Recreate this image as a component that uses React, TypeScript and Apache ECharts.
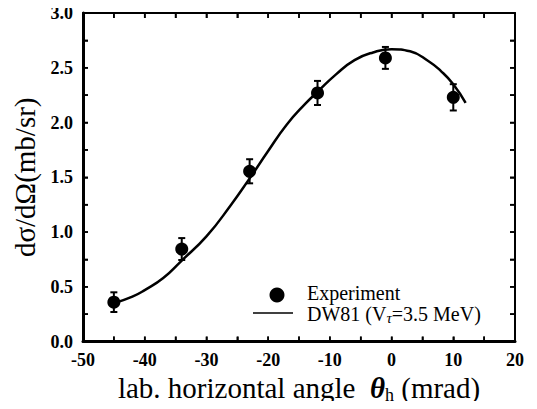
import React, { useEffect, useRef } from "react";
import * as echarts from "echarts";

const expX = [-45, -34, -23, -12, -1, 10];
const expY = [0.36, 0.845, 1.555, 2.27, 2.59, 2.23];
const expErr = [0.09, 0.1, 0.11, 0.11, 0.1, 0.12];

const curveX = [-45, -42, -40, -37, -34, -30, -26, -23, -20, -17, -14, -12, -9, -6, -3, 0, 3, 6, 8, 10, 12];
const curveY = [0.35, 0.41, 0.47, 0.58, 0.74, 0.96, 1.25, 1.49, 1.74, 1.98, 2.17, 2.28, 2.44, 2.57, 2.64, 2.67, 2.65, 2.56, 2.47, 2.35, 2.18];

const xTickVals = [-45, -40, -35, -30, -25, -20, -15, -10, -5, 0, 5, 10, 15];
const yTickVals = [0.25, 0.5, 0.75, 1.0, 1.25, 1.5, 1.75, 2.0, 2.25, 2.5, 2.75];

const xRange = { min: -50, max: 20, step: 5 };
const yRange = { min: 0, max: 3, step: 0.25 };

const FONT = "Liberation Serif";

const mkTick = () => ({ show: true, inside: true, length: 5, lineStyle: { color: "#000", width: 1.5 } });

export default function App() {
  const ref = useRef<HTMLDivElement>(null);
  useEffect(() => {
    if (!ref.current) return;
    const chart = echarts.init(ref.current, null, { renderer: "svg" });
    const xTickData = xTickVals.map((v) => [v, yRange.min]);
    const yTickData = yTickVals.map((v) => [xRange.min, v]);
    chart.setOption({
      animation: false,
      backgroundColor: "#fff",
      grid: { left: 83, right: 22, top: 13, bottom: 66 },
      xAxis: [
        {
          type: "value",
          min: xRange.min,
          max: xRange.max,
          interval: xRange.step,
          position: "bottom",
          axisLine: { show: true, onZero: false, lineStyle: { color: "#000", width: 3 } },
          axisTick: mkTick(),
          splitLine: { show: false },
          axisLabel: {
            color: "#000",
            fontFamily: FONT,
            fontWeight: "bold",
            fontSize: 18,
            margin: 9,
            formatter: (v: number) => (v % 10 === 0 ? String(v) : ""),
          },
          name: "lab. horizontal angle  {th|θ}{sub|h} (mrad)",
          nameLocation: "middle",
          nameGap: 28,
          nameTextStyle: {
            color: "#000",
            fontFamily: FONT,
            fontSize: 29,
            rich: {
              th: { fontFamily: FONT, fontSize: 29, fontWeight: "bold", fontStyle: "italic", color: "#000" },
              sub: { fontFamily: FONT, fontSize: 18, color: "#000", padding: [14, 0, 0, 0] },
            },
          },
        },
        {
          type: "value",
          min: xRange.min,
          max: xRange.max,
          interval: xRange.step,
          position: "top",
          axisLine: { show: true, onZero: false, lineStyle: { color: "#000", width: 2 } },
          axisTick: mkTick(),
          splitLine: { show: false },
          axisLabel: { show: false },
        },
      ],
      yAxis: [
        {
          type: "value",
          min: yRange.min,
          max: yRange.max,
          interval: yRange.step,
          position: "left",
          axisLine: { show: true, onZero: false, lineStyle: { color: "#000", width: 3 } },
          axisTick: mkTick(),
          splitLine: { show: false },
          axisLabel: {
            color: "#000",
            fontFamily: FONT,
            fontWeight: "bold",
            fontSize: 18,
            margin: 10,
            formatter: (v: number) => (Math.abs(v * 2 - Math.round(v * 2)) < 1e-6 ? v.toFixed(1) : ""),
          },
          name: "dσ/dΩ(mb/sr)",
          nameLocation: "middle",
          nameGap: 40,
          nameRotate: 90,
          nameTextStyle: { color: "#000", fontFamily: FONT, fontSize: 29 },
        },
        {
          type: "value",
          min: yRange.min,
          max: yRange.max,
          interval: yRange.step,
          position: "right",
          axisLine: { show: true, onZero: false, lineStyle: { color: "#000", width: 2 } },
          axisTick: mkTick(),
          splitLine: { show: false },
          axisLabel: { show: false },
        },
      ],
      series: [
        {
          name: "xticks",
          type: "custom",
          silent: true,
          data: xTickData,
          renderItem: (params: any, api: any) => {
            const bottom = api.coord([api.value(0), yRange.min]);
            const top = api.coord([api.value(0), yRange.max]);
            const L = 5;
            const style = { stroke: "#000", lineWidth: 1.6 };
            return {
              type: "group",
              children: [
                { type: "line", shape: { x1: bottom[0], y1: bottom[1], x2: bottom[0], y2: bottom[1] - L }, style },
                { type: "line", shape: { x1: top[0], y1: top[1], x2: top[0], y2: top[1] + L }, style },
              ],
            };
          },
          z: 5,
        },
        {
          name: "yticks",
          type: "custom",
          silent: true,
          data: yTickData,
          renderItem: (params: any, api: any) => {
            const left = api.coord([xRange.min, api.value(1)]);
            const right = api.coord([xRange.max, api.value(1)]);
            const L = 5;
            const style = { stroke: "#000", lineWidth: 1.6 };
            return {
              type: "group",
              children: [
                { type: "line", shape: { x1: left[0], y1: left[1], x2: left[0] + L, y2: left[1] }, style },
                { type: "line", shape: { x1: right[0], y1: right[1], x2: right[0] - L, y2: right[1] }, style },
              ],
            };
          },
          z: 5,
        },
        {
          name: "DW81",
          type: "line",
          smooth: true,
          showSymbol: false,
          data: curveX.map((x, i) => [x, curveY[i]]),
          lineStyle: { color: "#000", width: 2.5 },
          z: 2,
        },
        {
          name: "errors",
          type: "custom",
          data: expX.map((x, i) => [x, expY[i] - expErr[i], expY[i] + expErr[i]]),
          renderItem: (params: any, api: any) => {
            const x = api.value(0);
            const lo = api.coord([x, api.value(1)]);
            const hi = api.coord([x, api.value(2)]);
            const cap = 3.5;
            const style = { stroke: "#000", lineWidth: 2 };
            return {
              type: "group",
              children: [
                { type: "line", shape: { x1: lo[0], y1: lo[1], x2: hi[0], y2: hi[1] }, style },
                { type: "line", shape: { x1: lo[0] - cap, y1: lo[1], x2: lo[0] + cap, y2: lo[1] }, style },
                { type: "line", shape: { x1: hi[0] - cap, y1: hi[1], x2: hi[0] + cap, y2: hi[1] }, style },
              ],
            };
          },
          z: 3,
        },
        {
          name: "Experiment",
          type: "scatter",
          symbol: "circle",
          symbolSize: 13,
          data: expX.map((x, i) => [x, expY[i]]),
          itemStyle: { color: "#000", opacity: 1 },
          z: 4,
        },
      ],
      graphic: [
        { type: "circle", shape: { cx: 277, cy: 295, r: 7.5 }, style: { fill: "#000" } },
        {
          type: "text",
          x: 307,
          y: 293,
          style: { text: "Experiment", fill: "#000", fontFamily: FONT, fontSize: 20, lineHeight: 18, verticalAlign: "middle" },
        },
        { type: "line", shape: { x1: 253, y1: 313, x2: 293, y2: 313 }, style: { stroke: "#000", lineWidth: 1.5 } },
        {
          type: "text",
          x: 307,
          y: 314,
          style: {
            text: "DW81 (V{sub|τ}=3.5 MeV)",
            fill: "#000",
            fontFamily: FONT,
            fontSize: 20,
            lineHeight: 18,
            verticalAlign: "middle",
            rich: {
              sub: { fontFamily: FONT, fontSize: 15, fontStyle: "italic", fill: "#000", lineHeight: 18, padding: [8, 0, 0, 0] },
            },
          },
        },
      ],
    });
    return () => chart.dispose();
  }, []);
  return <div ref={ref} style={{ width: 537, height: 409, margin: -8 }} />;
}
